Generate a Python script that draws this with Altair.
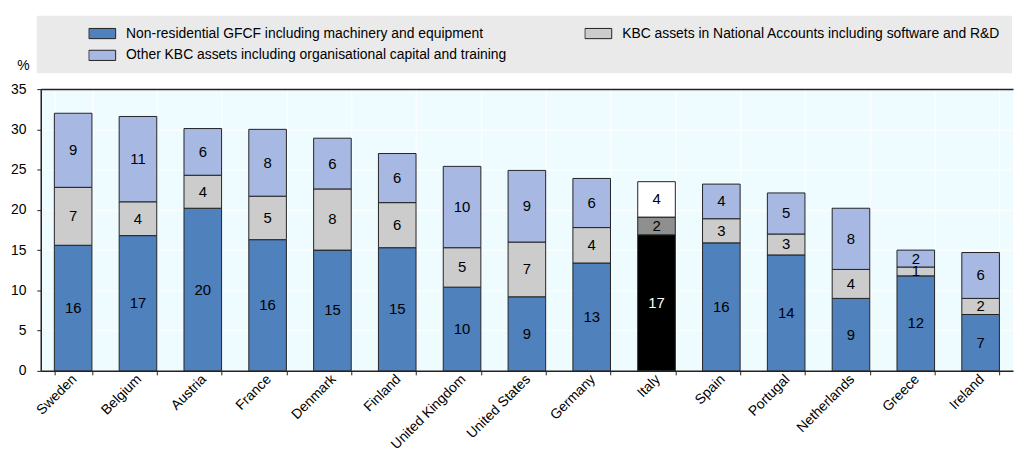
import altair as alt
import pandas as pd

countries = ["Sweden", "Belgium", "Austria", "France", "Denmark", "Finland",
             "United Kingdom", "United States", "Germany", "Italy", "Spain",
             "Portugal", "Netherlands", "Greece", "Ireland"]
gfcf = [15.6, 16.8, 20.2, 16.3, 15.0, 15.3, 10.4, 9.2, 13.4, 16.9, 15.9, 14.4, 9.0, 11.8, 7.0]
kbc_na = [7.2, 4.2, 4.1, 5.4, 7.6, 5.6, 4.9, 6.8, 4.4, 2.2, 3.0, 2.6, 3.6, 1.1, 2.0]
kbc_other = [9.2, 10.6, 5.8, 8.3, 6.3, 6.1, 10.1, 8.9, 6.1, 4.4, 4.3, 5.1, 7.6, 2.1, 5.7]

series_names = [
    "Non-residential GFCF including machinery and equipment",
    "KBC assets in National Accounts including software and R&D",
    "Other KBC assets including organisational capital and training",
]
series_colors = ["#4F81BD", "#CCCCCC", "#A7B9E3"]
highlight = "Italy"
highlight_keys = ["Italy-1", "Italy-2", "Italy-3"]
highlight_colors = ["#000000", "#8F8F8F", "#FFFFFF"]
y_ticks = [0, 5, 10, 15, 20, 25, 30, 35]

rows = []
for ci, c in enumerate(countries):
    for si, vals in enumerate([gfcf, kbc_na, kbc_other]):
        key = highlight_keys[si] if c == highlight else series_names[si]
        rows.append({"country": c, "series": series_names[si], "key": key,
                     "order": si, "value": vals[ci]})
df = pd.DataFrame(rows)

base = alt.Chart(df).transform_stack(
    stack="value", as_=["v0", "v1"], groupby=["country"],
    sort=[alt.SortField(field="order", order="ascending")]
).transform_calculate(
    mid="(datum.v0 + datum.v1) / 2",
    lab="format(datum.value, '.0f')"
)

x_axis = alt.Axis(title=None, labelAngle=-45, labelAlign="right",
                  labelBaseline="middle", labelOffset=1,
                  tickBand="extent",
                  grid=True, gridColor="white", gridWidth=1,
                  domainColor="#222", domainWidth=1.5,
                  tickColor="#222", tickSize=4,
                  labelFontSize=14, labelColor="#000", labelPadding=2)

y_axis = alt.Axis(values=y_ticks, title="%",
                  titleAngle=0, titleX=-18, titleY=-24,
                  titleAlign="center", titleBaseline="middle",
                  titleFontSize=14, titleFontWeight="normal",
                  titleColor="#000",
                  grid=True,
                  gridColor=alt.condition("datum.value == 35", alt.value("#222"), alt.value("white")),
                  gridWidth=alt.condition("datum.value == 35", alt.value(1.5), alt.value(1)),
                  domainColor="#222", domainWidth=1.5,
                  tickColor="#222", tickSize=4,
                  labelFontSize=14, labelColor="#000", labelPadding=11)

y_scale = alt.Scale(domain=[0, 35])
x_scale = alt.Scale(paddingInner=0.42, paddingOuter=0.21)

bars = base.mark_bar(stroke="#222", strokeWidth=1).encode(
    x=alt.X("country:N", sort=countries, scale=x_scale, axis=x_axis),
    y=alt.Y("v0:Q", scale=y_scale, axis=y_axis),
    y2="v1:Q",
    color=alt.Color("key:N",
                    scale=alt.Scale(domain=series_names + highlight_keys,
                                    range=series_colors + highlight_colors),
                    legend=alt.Legend(
                        values=series_names, title=" ", titleOrient="left",
                        titlePadding=41, titleFontSize=10,
                        orient="none", legendX=-4, legendY=-74,
                        direction="horizontal", columns=2,
                        fillColor="#EAEAEA", padding=11,
                        symbolType="M-1,-0.38L1,-0.38L1,0.38L-1,0.38Z",
                        symbolSize=729, symbolStrokeColor="#222",
                        symbolStrokeWidth=1, symbolOpacity=1,
                        clipHeight=14, rowPadding=8, columnPadding=78,
                        labelOffset=10, labelFontSize=14, labelLimit=700,
                        labelColor="#000")),
    order=alt.Order("order:Q"),
)

texts = base.mark_text(fontSize=15, baseline="middle", align="center").encode(
    x=alt.X("country:N", sort=countries, scale=x_scale, axis=x_axis),
    y=alt.Y("mid:Q", scale=y_scale, axis=y_axis),
    text="lab:N",
    color=alt.condition("datum.country == 'Italy' && datum.order == 0",
                        alt.value("white"), alt.value("black")),
)

chart = alt.layer(bars, texts).properties(
    width=980, height=284,
    autosize=alt.AutoSizeParams(type="none"),
    padding={"left": 33, "top": 80, "right": 3, "bottom": 76},
).configure(font="Liberation Sans").configure_view(fill="#EFFCFF", stroke=None)

chart.save("out.html", embed_options={"renderer": "svg", "actions": False})
